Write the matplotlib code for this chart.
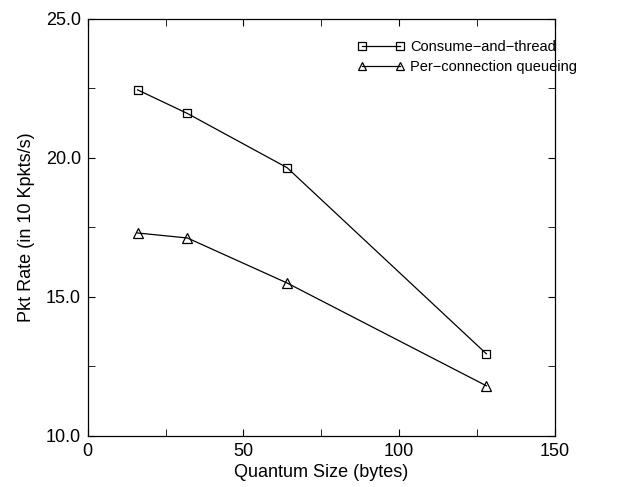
import matplotlib
matplotlib.use("Agg")
import matplotlib.pyplot as plt
from matplotlib.ticker import MultipleLocator, FormatStrFormatter

plt.rcParams['font.family'] = ['Liberation Sans', 'DejaVu Sans']

quantum = [16, 32, 64, 128]
consume_and_thread = [22.45, 21.6, 19.65, 12.95]
per_connection = [17.3, 17.12, 15.5, 11.8]
labels = ["Consume\u2212and\u2212thread", "Per\u2212connection queueing"]

fig = plt.figure(figsize=(6.18, 4.87), dpi=100)
ax = fig.add_axes([0.142, 0.105, 0.756, 0.856])

ax.plot(quantum, consume_and_thread, color='black', lw=0.9, marker='s', ms=6,
        mfc='none', mec='black', mew=0.9, label=labels[0])
ax.plot(quantum, per_connection, color='black', lw=0.9, marker='^', ms=7,
        mfc='none', mec='black', mew=0.9, label=labels[1])

ax.set_xlim(0, 150)
ax.set_ylim(10, 25)
ax.xaxis.set_major_locator(MultipleLocator(50))
ax.xaxis.set_minor_locator(MultipleLocator(25))
ax.yaxis.set_major_locator(MultipleLocator(5))
ax.yaxis.set_minor_locator(MultipleLocator(2.5))
ax.yaxis.set_major_formatter(FormatStrFormatter('%.1f'))
ax.tick_params(which='both', direction='in', top=True, right=True, labelsize=13, pad=5)
ax.tick_params(which='major', length=5)
ax.tick_params(which='minor', length=5)
for s in ax.spines.values():
    s.set_linewidth(0.9)

ax.set_xlabel("Quantum Size (bytes)", fontsize=13, labelpad=3)
ax.set_ylabel("Pkt Rate (in 10 Kpkts/s)", fontsize=13, labelpad=8)

ax.legend(loc='upper right', bbox_to_anchor=(1.075, 0.98), frameon=False, numpoints=2,
          fontsize=10.5, handlelength=3.2, handletextpad=0.4, labelspacing=0.4,
          markerscale=0.85)

fig.savefig("out.png", dpi=100)
